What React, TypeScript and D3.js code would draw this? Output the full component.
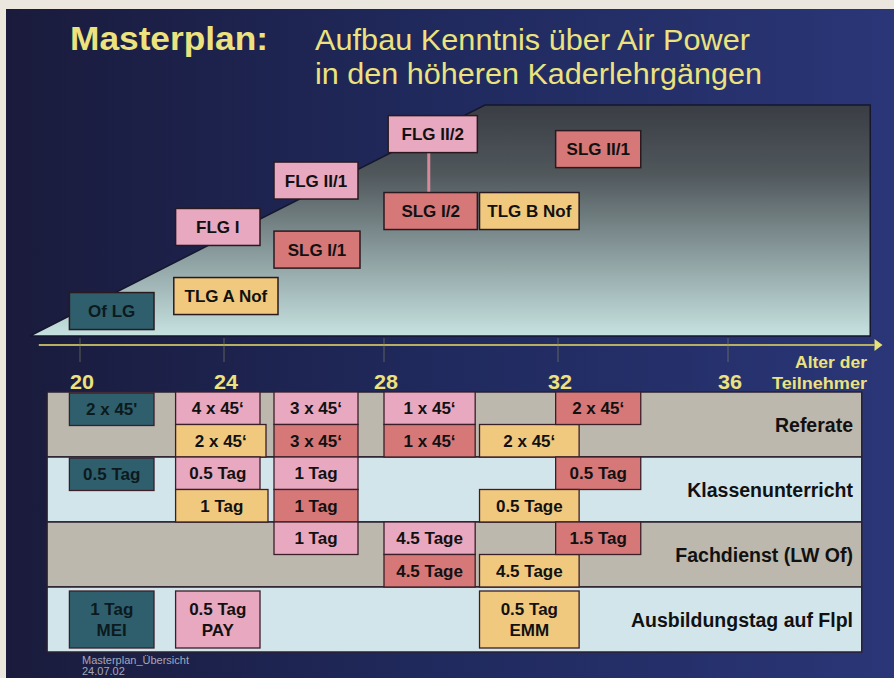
import * as d3 from 'd3';

// ages on the axis (the picture's spacing is uneven)
const tickAges = [20, 24, 28, 32, 36];
const tickPx = [82, 226, 386, 560, 730];

const rowLabels = ['Referate', 'Klassenunterricht', 'Fachdienst (LW Of)', 'Ausbildungstag auf Flpl'];

// courses in the upper area: name, start age, end age, level (0..100), kind
const courseNames = ['Of LG', 'TLG A Nof', 'FLG I', 'SLG I/1', 'FLG II/1', 'FLG II/2', 'SLG I/2', 'TLG B Nof', 'SLG II/1'];
const courseStart = [19.65, 22.55, 22.6, 25.2, 25.2, 28.05, 27.95, 30.15, 31.9];
const courseEnd = [22.0, 25.3, 24.85, 27.35, 27.3, 30.1, 30.1, 32.45, 33.9];
const courseLevel = [10.8, 17.3, 47.2, 37.4, 67.3, 87.4, 54.1, 54.1, 80.9];
const courseKind = ['teal', 'yellow', 'pink', 'red', 'pink', 'pink', 'red', 'yellow', 'red'];

// table cells: row, slot (0 = upper, 1 = lower, 2 = both), start age, end age, kind, text
const cellRow = [0, 0, 0, 0, 0, 0, 0, 0, 0, 1, 1, 1, 1, 1, 1, 1, 2, 2, 2, 2, 2, 3, 3, 3];
const cellSlot = [0, 0, 1, 0, 1, 0, 1, 1, 0, 0, 0, 1, 0, 1, 0, 1, 0, 0, 1, 1, 0, 2, 2, 2];
const cellStart = [19.65, 22.6, 22.6, 25.2, 25.2, 27.95, 27.95, 30.15, 31.9, 19.65, 22.6, 22.6, 25.2, 25.2, 31.9, 30.15, 25.2, 27.95, 27.95, 30.15, 31.9, 19.65, 22.6, 30.15];
const cellEnd = [22.0, 24.85, 25.0, 27.3, 27.3, 30.05, 30.05, 32.45, 33.9, 22.0, 24.85, 25.05, 27.3, 27.3, 33.9, 32.45, 27.3, 30.05, 30.05, 32.45, 33.9, 22.0, 24.85, 32.45];
const cellKind = ['teal', 'pink', 'yellow', 'pink', 'red', 'pink', 'red', 'yellow', 'red', 'teal', 'pink', 'yellow', 'pink', 'red', 'red', 'yellow', 'pink', 'pink', 'red', 'yellow', 'red', 'teal', 'pink', 'yellow'];
const cellText = [
  "2 x 45'", '4 x 45‘', '2 x 45‘', '3 x 45‘', '3 x 45‘', '1 x 45‘', '1 x 45‘', '2 x 45‘', '2 x 45‘',
  '0.5 Tag', '0.5 Tag', '1 Tag', '1 Tag', '1 Tag', '0.5 Tag', '0.5 Tage',
  '1 Tag', '4.5 Tage', '4.5 Tage', '4.5 Tage', '1.5 Tag',
  '1 Tag\nMEI', '0.5 Tag\nPAY', '0.5 Tag\nEMM',
];

const fills: Record<string, string> = {
  teal: '#2f5f6c',
  pink: '#e8a8c0',
  red: '#d67878',
  yellow: '#f1c97e',
};
const rowFills = ['#bcb8ad', '#d2e5ea', '#bcb8ad', '#d2e5ea'];

const W = 894;
const H = 678;
const font = '"Liberation Sans", Arial, sans-serif';

export default function App() {
  const x = d3.scaleLinear().domain(tickAges).range(tickPx);
  const lvl = d3.scaleLinear().domain([0, 100]).range([336, 105]);
  const rowY = d3.scaleBand<number>().domain([0, 1, 2, 3]).range([392, 652]);
  const rh = rowY.bandwidth();

  const areaLeft = x(18.55);
  const areaRight = x(39.3);
  const tableLeft = x(19.03);
  const tableRight = x(39.1);

  const courses = courseNames.map((n, i) => ({
    name: n, x0: x(courseStart[i]), x1: x(courseEnd[i]), cy: lvl(courseLevel[i]), kind: courseKind[i],
  }));
  const boxH = 37;
  const flg2 = courses[5];
  const slg2 = courses[6];

  const cells = cellText.map((t, i) => {
    const y0 = rowY(cellRow[i])!;
    const half = rh / 2;
    let top = y0, bot = y0 + half;
    if (cellSlot[i] === 1) { top = y0 + half; bot = y0 + rh; }
    if (cellSlot[i] === 2) { top = y0 + 4; bot = y0 + rh - 4; }
    if (cellSlot[i] === 0 && cellKind[i] === 'teal') { top = y0 + 1; bot = y0 + half + 1; }
    return { t, x0: x(cellStart[i]), x1: x(cellEnd[i]), top, bot, kind: cellKind[i] };
  });

  return (
    <svg width={W} height={H} style={{ position: 'absolute', left: 0, top: 0 }} fontFamily={font}>
      <defs>
        <linearGradient id="bg" x1="0" x2="1" y1="0" y2="0">
          <stop offset="0" stopColor="#1a1b3c" />
          <stop offset="0.5" stopColor="#202a5e" />
          <stop offset="1" stopColor="#2a3677" />
        </linearGradient>
        <linearGradient id="area" x1="0" x2="0" y1="0" y2="1">
          <stop offset="0" stopColor="#3a3d44" />
          <stop offset="0.3" stopColor="#50585c" />
          <stop offset="1" stopColor="#c6e2e0" />
        </linearGradient>
      </defs>
      <rect width={W} height={H} fill="#ebe7df" />
      <rect x={6} y={9} width={W - 6} height={H - 9} fill="url(#bg)" />

      {/* title */}
      <text x={70} y={50} fill="#ece27e" fontSize={33} fontWeight="bold" textLength={198} lengthAdjust="spacingAndGlyphs">Masterplan:</text>
      <text x={315} y={50} fill="#ece27e" fontSize={30} textLength={435} lengthAdjust="spacingAndGlyphs">Aufbau Kenntnis über Air Power</text>
      <text x={315} y={84} fill="#ece27e" fontSize={30} textLength={447} lengthAdjust="spacingAndGlyphs">in den höheren Kaderlehrgängen</text>

      {/* rising area */}
      <polygon
        points={[[areaLeft, 336], [x(31.7) - 62, 105], [areaRight, 105], [areaRight, 336]].map(p => p.join(',')).join(' ')}
        fill="url(#area)"
        stroke="#15172e"
        strokeWidth={1.5}
      />
      <line x1={(flg2.x0 + flg2.x1) / 2 - 4} x2={(flg2.x0 + flg2.x1) / 2 - 4} y1={flg2.cy + boxH / 2} y2={slg2.cy - boxH / 2} stroke="#d88a9a" strokeWidth={3} />
      {courses.map(c => (
        <g key={c.name}>
          <rect x={c.x0} y={c.cy - boxH / 2} width={c.x1 - c.x0} height={boxH} fill={fills[c.kind]} stroke="#2a1a20" strokeWidth={1.5} />
          <text x={(c.x0 + c.x1) / 2} y={c.cy + 6} textAnchor="middle" fontSize={17} fontWeight="bold" fill={c.kind === 'teal' ? '#0c1a1e' : '#111'}>{c.name}</text>
        </g>
      ))}

      {/* axis */}
      <line x1={x(18.8)} x2={x(39.4)} y1={345} y2={345} stroke="#b8b060" strokeWidth={2} />
      <polygon points={`${x(39.4)},339 ${x(39.4) + 8},345 ${x(39.4)},351`} fill="#e8e27a" />
      {tickAges.map(a => (
        <g key={a}>
          <line x1={x(a) - 2} x2={x(a) - 2} y1={338} y2={362} stroke="#8a8a60" strokeWidth={1} opacity={0.6} />
          <text x={x(a)} y={389} textAnchor="middle" fill="#ece27e" fontSize={20} fontWeight="bold" textLength={24} lengthAdjust="spacingAndGlyphs">{a}</text>
        </g>
      ))}
      <text x={867} y={368} textAnchor="end" fill="#ece27e" fontSize={17} fontWeight="bold" textLength={72} lengthAdjust="spacingAndGlyphs">Alter der</text>
      <text x={867} y={389} textAnchor="end" fill="#ece27e" fontSize={17} fontWeight="bold" textLength={95} lengthAdjust="spacingAndGlyphs">Teilnehmer</text>

      {/* table */}
      {rowLabels.map((r, i) => (
        <rect key={r} x={tableLeft} y={rowY(i)} width={tableRight - tableLeft} height={rh} fill={rowFills[i]} stroke="#2a2030" strokeWidth={1.5} />
      ))}
      {cells.map((c, i) => {
        const lines = c.t.split('\n');
        const cy = (c.top + c.bot) / 2;
        return (
          <g key={i}>
            <rect x={c.x0} y={c.top} width={c.x1 - c.x0} height={c.bot - c.top} fill={fills[c.kind]} stroke="#3a1e28" strokeWidth={1.3} />
            {lines.map((l, j) => (
              <text key={j} x={(c.x0 + c.x1) / 2} y={cy + 6 + (j - (lines.length - 1) / 2) * 21} textAnchor="middle" fontSize={17} fontWeight="bold" fill={c.kind === 'teal' ? '#0c1a1e' : '#111'}>{l}</text>
            ))}
          </g>
        );
      })}
      {rowLabels.map((r, i) => (
        <text key={r} x={853} y={rowY(i)! + rh / 2 + 7} textAnchor="end" fontSize={19.5} fontWeight="bold" fill="#111">{r}</text>
      ))}

      {/* footer */}
      <text x={82} y={664} fill="#a6a6b8" fontSize={11}>Masterplan_Übersicht</text>
      <text x={82} y={675} fill="#a6a6b8" fontSize={11}>24.07.02</text>
    </svg>
  );
}
